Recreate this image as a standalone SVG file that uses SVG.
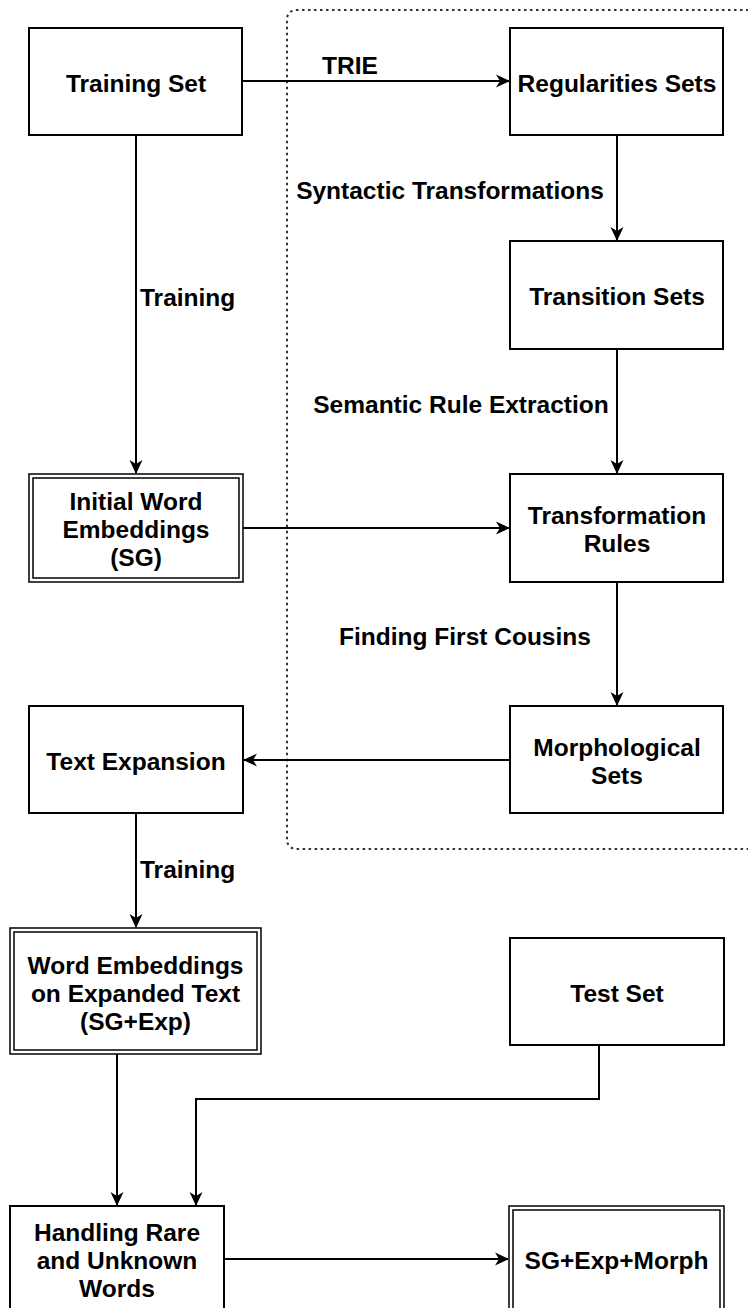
<svg xmlns="http://www.w3.org/2000/svg" width="748" height="1308" viewBox="0 0 748 1308">
<style>
.box{fill:#fff;stroke:#000;stroke-width:2}
.dbl{fill:none;stroke:#000;stroke-width:1.5}
.t{font-family:"Liberation Sans",Arial,Helvetica,sans-serif;font-weight:bold;font-size:24.5px;fill:#000;text-anchor:middle}
.lbl{font-family:"Liberation Sans",Arial,Helvetica,sans-serif;font-weight:bold;font-size:24.5px;fill:#000}
.edge{fill:none;stroke:#000;stroke-width:2}
.region{fill:none;stroke:#333;stroke-width:2;stroke-dasharray:2.5 3.5}
</style>
<defs>
<marker id="arr" markerUnits="userSpaceOnUse" markerWidth="14" markerHeight="14" refX="13" refY="7" orient="auto">
<path d="M0,0.5 L14,7 L0,13.5 L4,7 Z" fill="#000"/>
</marker>
</defs>
<rect width="748" height="1308" fill="#fff"/>
<rect id="region" class="region" x="287" y="10" width="480" height="839" rx="9" ry="9"/>

<g id="connectors">
<line class="edge" x1="242" y1="81" x2="509" y2="81" marker-end="url(#arr)"/>
<line class="edge" x1="136" y1="135" x2="136" y2="473" marker-end="url(#arr)"/>
<line class="edge" x1="617" y1="135" x2="617" y2="240" marker-end="url(#arr)"/>
<line class="edge" x1="617" y1="349" x2="617" y2="473" marker-end="url(#arr)"/>
<line class="edge" x1="243" y1="528" x2="509" y2="528" marker-end="url(#arr)"/>
<line class="edge" x1="617" y1="582" x2="617" y2="705" marker-end="url(#arr)"/>
<line class="edge" x1="510" y1="760" x2="244" y2="760" marker-end="url(#arr)"/>
<line class="edge" x1="136" y1="813" x2="136" y2="927" marker-end="url(#arr)"/>
<line class="edge" x1="117" y1="1054" x2="117" y2="1205" marker-end="url(#arr)"/>
<polyline class="edge" points="599,1045 599,1099 196,1099 196,1205" marker-end="url(#arr)"/>
<line class="edge" x1="224" y1="1259" x2="508" y2="1259" marker-end="url(#arr)"/>
<text class="lbl" x="350" y="74" text-anchor="middle">TRIE</text>
<text class="lbl" x="140" y="306">Training</text>
<text class="lbl" x="450" y="199" text-anchor="middle">Syntactic Transformations</text>
<text class="lbl" x="461" y="413" text-anchor="middle">Semantic Rule Extraction</text>
<text class="lbl" x="465" y="645" text-anchor="middle">Finding First Cousins</text>
<text class="lbl" x="140" y="878">Training</text>
</g>

<g id="training-set">
<rect class="box" x="29" y="28" width="213" height="107"/>
<text class="t" x="136" y="92">Training Set</text>
</g>
<g id="regularities-sets">
<rect class="box" x="510" y="28" width="213" height="107"/>
<text class="t" x="617" y="92">Regularities Sets</text>
</g>
<g id="transition-sets">
<rect class="box" x="510" y="241" width="213" height="108"/>
<text class="t" x="617" y="305">Transition Sets</text>
</g>
<g id="transformation-rules">
<rect class="box" x="510" y="474" width="213" height="108"/>
<text class="t" x="617" y="524">Transformation</text>
<text class="t" x="617" y="552">Rules</text>
</g>
<g id="initial-word-embeddings">
<rect class="box" x="29" y="474" width="214" height="108" style="stroke-width:1.5"/>
<rect class="dbl" x="33" y="478" width="206" height="100"/>
<text class="t" x="136" y="510">Initial Word</text>
<text class="t" x="136" y="538">Embeddings</text>
<text class="t" x="136" y="566">(SG)</text>
</g>
<g id="morphological-sets">
<rect class="box" x="510" y="706" width="213" height="107"/>
<text class="t" x="617" y="756">Morphological</text>
<text class="t" x="617" y="784">Sets</text>
</g>
<g id="text-expansion">
<rect class="box" x="29" y="706" width="214" height="107"/>
<text class="t" x="136" y="770">Text Expansion</text>
</g>
<g id="word-embeddings-expanded">
<rect class="box" x="10" y="928" width="251" height="126" style="stroke-width:1.5"/>
<rect class="dbl" x="14" y="932" width="243" height="118"/>
<text class="t" x="135.5" y="974">Word Embeddings</text>
<text class="t" x="135.5" y="1002">on Expanded Text</text>
<text class="t" x="135.5" y="1030">(SG+Exp)</text>
</g>
<g id="test-set">
<rect class="box" x="510" y="938" width="214" height="107"/>
<text class="t" x="617" y="1002">Test Set</text>
</g>
<g id="handling-rare">
<rect class="box" x="10" y="1206" width="214" height="108"/>
<text class="t" x="117" y="1241">Handling Rare</text>
<text class="t" x="117" y="1269">and Unknown</text>
<text class="t" x="117" y="1297">Words</text>
</g>
<g id="sg-exp-morph">
<rect class="box" x="509" y="1206" width="215" height="108" style="stroke-width:1.5"/>
<rect class="dbl" x="513" y="1210" width="207" height="100"/>
<text class="t" x="616.5" y="1269">SG+Exp+Morph</text>
</g>
</svg>
